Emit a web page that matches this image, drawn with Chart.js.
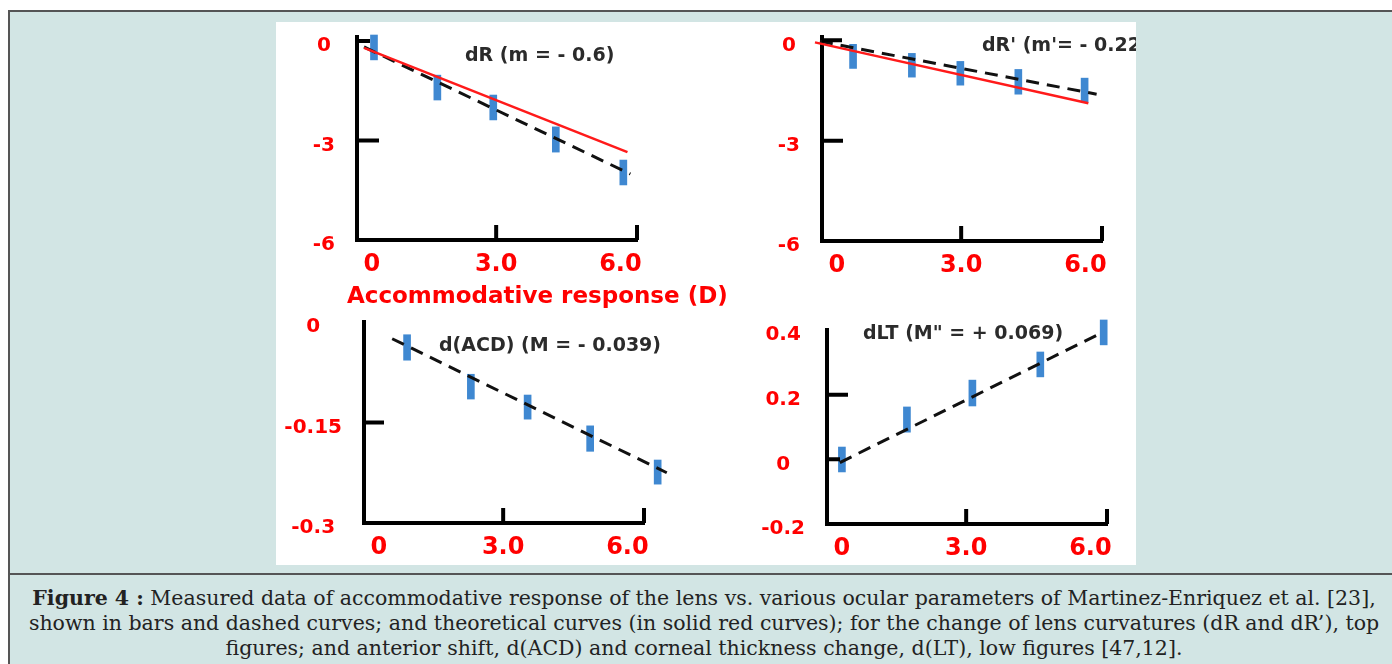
<!DOCTYPE html>
<html lang="en">
<head>
<meta charset="UTF-8">
<title>Figure 4</title>
<script src="https://cdn.jsdelivr.net/npm/chart.js"></script>
<style>
  body { margin: 0; width: 1392px; height: 664px; background: #fff; position: relative; overflow: hidden; }
  #frame { position: absolute; left: 8px; top: 10px; width: 1384px; height: 654px; background: #d2e5e4; border-top: 2px solid #555; border-left: 2px solid #555; box-sizing: border-box; }
  #panel { position: absolute; left: 276px; top: 22px; width: 860px; height: 543px; background: #fff; overflow: hidden; }
  #panel canvas { position: absolute; }
  .note { position: absolute; font: bold 19px "DejaVu Sans", sans-serif; color: #2b2b2b; white-space: nowrap; line-height: 1; }
  #xtitle { position: absolute; left: 71px; top: 262px; font: bold 23px "DejaVu Sans", sans-serif; color: #ff0000; white-space: nowrap; line-height: 1; }
  #sep { position: absolute; left: 8px; top: 573px; width: 1384px; height: 2px; background: #555; }
  #caption { position: absolute; left: 8px; top: 586px; width: 1392px; text-align: center; font: 20.5px/25px "DejaVu Serif", serif; color: #222; white-space: nowrap; }
</style>
</head>
<body>
<div id="frame"></div>
<div id="panel">
  <canvas id="cTL" width="360" height="262" style="left:14px;top:0"></canvas>
  <canvas id="cTR" width="360" height="262" style="left:479px;top:0"></canvas>
  <canvas id="cBL" width="400" height="262" style="left:1px;top:278px"></canvas>
  <canvas id="cBR" width="386" height="262" style="left:474px;top:278px"></canvas>
  <div class="note" style="left:189px;top:23px">dR (m = - 0.6)</div>
  <div class="note" style="left:706px;top:13px">dR' (m'= - 0.22)</div>
  <div class="note" style="left:163px;top:313px">d(ACD) (M = - 0.039)</div>
  <div class="note" style="left:587px;top:301px">dLT (M" = + 0.069)</div>
  <div id="xtitle">Accommodative response (D)</div>
</div>
<div id="sep"></div>
<div id="caption"><b>Figure 4 :</b> Measured data of accommodative response of the lens vs. various ocular parameters of Martinez-Enriquez et al. [23],<br>shown in bars and dashed curves; and theoretical curves (in solid red curves); for the change of lens curvatures (dR and dR’), top<br>figures; and anterior shift, d(ACD) and corneal thickness change, d(LT), low figures [47,12].</div>
<script>
// shared x axis (accommodative response, D)
const xTicks = [0, 3, 6];
const xTickLabels = ['0', '3.0', '6.0'];

// dR (top left)
const dRx = [0.05, 1.58, 2.93, 4.44, 6.07];
const dRLow = [-0.57, -1.78, -2.38, -3.35, -4.34];
const dRHigh = [0.18, -1.03, -1.63, -2.59, -3.59];
const dRFitX = [-0.19, 6.24];
const dRFitY = [-0.18, -4.01];
const dRTheoryX = [-0.19, 6.17];
const dRTheoryY = [-0.21, -3.35];
const dRTicks = [0, -3, -6];
const dRLabels = ['0', '-3', '-6'];

// dR' (top right)
const dR2x = [0.39, 1.81, 2.98, 4.38, 5.98];
const dR2Low = [-0.84, -1.10, -1.34, -1.61, -1.85];
const dR2High = [-0.12, -0.39, -0.63, -0.87, -1.13];
const dR2FitX = [-0.41, 6.27];
const dR2FitY = [-0.03, -1.61];
const dR2TheoryX = [-0.53, 6.07];
const dR2TheoryY = [-0.06, -1.88];

// d(ACD) (bottom left)
const acdX = [0.68, 2.22, 3.59, 5.10, 6.73];
const acdLow = [-0.057, -0.115, -0.145, -0.193, -0.242];
const acdHigh = [-0.019, -0.078, -0.109, -0.155, -0.206];
const acdFitX = [0.32, 6.95];
const acdFitY = [-0.025, -0.225];
const acdTicks = [0, -0.15, -0.3];
const acdLabels = ['0', '-0.15', '-0.3'];

// dLT (bottom right)
const ltX = [0, 1.57, 3.15, 4.79, 6.32];
const ltLow = [-0.039, 0.084, 0.165, 0.255, 0.354];
const ltHigh = [0.038, 0.162, 0.245, 0.332, 0.431];
const ltFitX = [-0.05, 6.25];
const ltFitY = [-0.01, 0.39];
const ltTicks = [0.4, 0.2, 0, -0.2];
const ltLabels = ['0.4', '0.2', '0', '-0.2'];

const BLUE = '#3f88d1';
const RED = '#ff1a1a';

// short tick marks drawn inwards from the axes
const innerTicks = {
    id: 'innerTicks',
    afterDraw(chart, args, opts) {
        const ctx = chart.ctx;
        const x = chart.scales.x, y = chart.scales.y;
        ctx.save();
        ctx.strokeStyle = '#000';
        ctx.lineWidth = 4;
        ctx.beginPath();
        (opts.y || []).forEach(([v, len]) => {
            const py = y.getPixelForValue(v);
            ctx.moveTo(x.left, py);
            ctx.lineTo(x.left + len, py);
        });
        (opts.x || []).forEach(([v, len]) => {
            const px = v === 'end' ? x.right : x.getPixelForValue(v);
            ctx.moveTo(px, y.bottom);
            ctx.lineTo(px, y.bottom - len);
        });
        ctx.stroke();
        ctx.restore();
    }
};

function pts(xs, ys) {
    return xs.map((x, i) => ({ x: x, y: ys[i] }));
}

function buildChart(id, s) {
    const datasets = [
        {
            type: 'line', data: pts(s.fitX, s.fitY),
            borderColor: '#111', borderWidth: 3, borderDash: [13, 8],
            pointRadius: 0, clip: false, order: 1
        },
        {
            type: 'bar', data: s.x.map((x, i) => ({ x: x, y: [s.low[i], s.high[i]] })),
            backgroundColor: BLUE, barThickness: 7, clip: false, order: 3
        }
    ];
    if (s.thX) {
        datasets.unshift({
            type: 'line', data: pts(s.thX, s.thY),
            borderColor: RED, borderWidth: 2.5, pointRadius: 0, clip: false, order: 0
        });
    }
    return new Chart(document.getElementById(id), {
        type: 'bar',
        data: { datasets: datasets },
        options: {
            responsive: false,
            animation: false,
            layout: { padding: s.pad },
            plugins: {
                legend: { display: false },
                tooltip: { enabled: false },
                innerTicks: { y: s.yMarks, x: [[3, 15], ['end', 15]] }
            },
            scales: {
                x: {
                    type: 'linear', min: -0.36, max: 6.4, offset: false,
                    afterBuildTicks: sc => { sc.ticks = xTicks.map(value => ({ value })); },
                    afterFit: sc => { sc.height = s.xh; },
                    // grid hidden; tickLength only spaces the labels off the axis
                    grid: { display: false, drawTicks: true, tickLength: 10 },
                    border: { color: '#000', width: 4 },
                    ticks: {
                        callback: (v, i) => xTickLabels[i],
                        color: '#ff0000', padding: 0, maxRotation: 0, autoSkip: false,
                        font: { family: 'DejaVu Sans', size: 24, weight: 'bold' }
                    }
                },
                y: {
                    type: 'linear', min: s.yMin, max: s.yMax, beginAtZero: false,
                    afterBuildTicks: sc => { sc.ticks = s.yTicks.map(value => ({ value })); },
                    afterFit: sc => { sc.width = s.yw; },
                    grid: { display: false, drawTicks: true, tickLength: 22 },
                    border: { color: '#000', width: 4 },
                    ticks: {
                        callback: (v, i) => s.yLabels[i],
                        color: '#ff0000', padding: 0, crossAlign: 'center', labelOffset: 5, autoSkip: false,
                        font: { family: 'DejaVu Sans', size: 20, weight: 'bold' }
                    }
                }
            }
        },
        plugins: [innerTicks]
    });
}

buildChart('cTL', {
    x: dRx, low: dRLow, high: dRHigh, fitX: dRFitX, fitY: dRFitY, thX: dRTheoryX, thY: dRTheoryY,
    yMin: -6, yMax: 0.12, yTicks: dRTicks, yLabels: dRLabels,
    yMarks: [[0, 13], [-3, 22]], pad: { left: 0, top: 15, right: 13, bottom: 0 }, xh: 44, yw: 67
});
buildChart('cTR', {
    x: dR2x, low: dR2Low, high: dR2High, fitX: dR2FitX, fitY: dR2FitY, thX: dR2TheoryX, thY: dR2TheoryY,
    yMin: -6, yMax: 0.1, yTicks: dRTicks, yLabels: dRLabels,
    yMarks: [[0, 20], [-3, 21]], pad: { left: 0, top: 15, right: 13, bottom: 0 }, xh: 43, yw: 67
});
buildChart('cBL', {
    x: acdX, low: acdLow, high: acdHigh, fitX: acdFitX, fitY: acdFitY,
    yMin: -0.3, yMax: 0, yTicks: acdTicks, yLabels: acdLabels,
    yMarks: [[-0.15, 20]], pad: { left: 0, top: 22, right: 33, bottom: 0 }, xh: 39, yw: 87
});
buildChart('cBR', {
    x: ltX, low: ltLow, high: ltHigh, fitX: ltFitX, fitY: ltFitY,
    yMin: -0.2, yMax: 0.4, yTicks: ltTicks, yLabels: ltLabels,
    yMarks: [[0.2, 21], [0, 13]], pad: { left: 0, top: 30, right: 29, bottom: 0 }, xh: 38, yw: 77
});
</script>
</body>
</html>
